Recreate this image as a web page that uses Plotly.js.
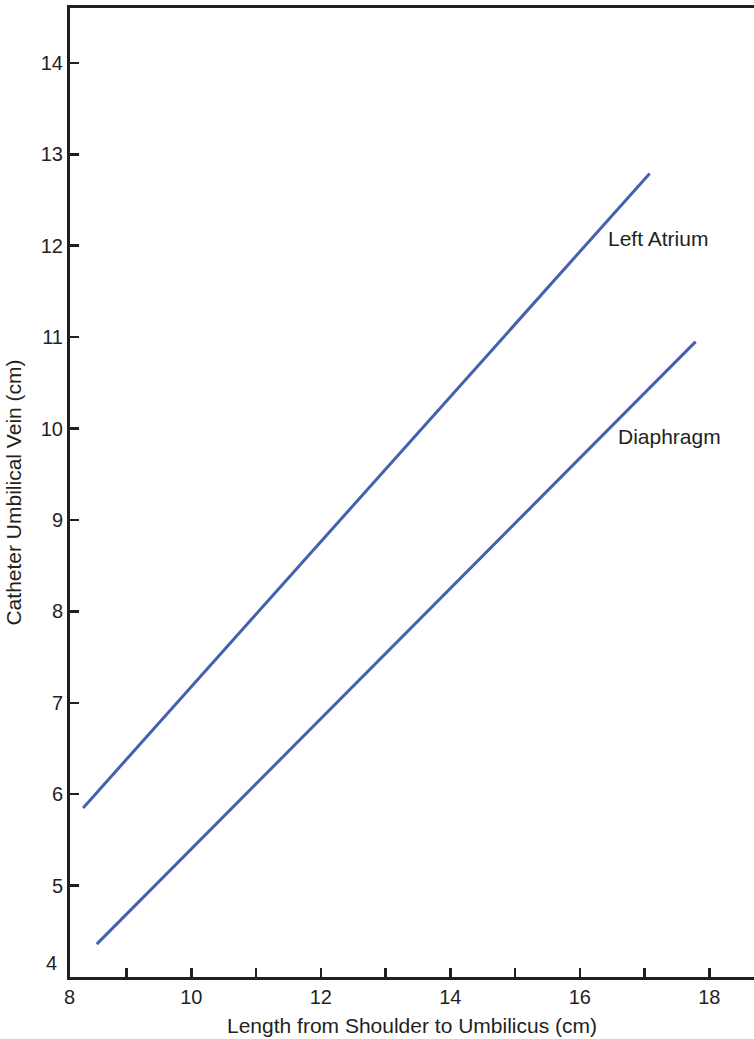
<!DOCTYPE html>
<html>
<head>
<meta charset="utf-8">
<script src="https://cdn.plot.ly/plotly-3.0.1.min.js"></script>
<style>html,body{margin:0;padding:0;background:#fff;}#chart{width:754px;height:1039px;}</style>
</head>
<body>
<div id="chart"></div>
<script>
// Data
const leftAtriumX = [8.33, 17.08];
const leftAtriumY = [5.85, 12.79];
const diaphragmX = [8.54, 17.79];
const diaphragmY = [4.36, 10.95];
const xTickVals = [9, 10, 11, 12, 13, 14, 15, 16, 17, 18];
const xTickText = ["", "10", "", "12", "", "14", "", "16", "", "18"];
const yTickVals = [5, 6, 7, 8, 9, 10, 11, 12, 13, 14];
const yTickText = ["5", "6", "7", "8", "9", "10", "11", "12", "13", "14"];
const seriesNames = ["Left Atrium", "Diaphragm"];

const ink = "#231f20";
const blue = "#4262ae";
const fontFam = "Liberation Sans, Arial, sans-serif";

const traces = [
  {x: leftAtriumX, y: leftAtriumY, mode: "lines", name: seriesNames[0],
   line: {color: blue, width: 3}, hoverinfo: "skip"},
  {x: diaphragmX, y: diaphragmY, mode: "lines", name: seriesNames[1],
   line: {color: blue, width: 3}, hoverinfo: "skip"}
];

const layout = {
  width: 754, height: 1039,
  margin: {l: 70, r: 0, t: 8, b: 62},
  paper_bgcolor: "#fff", plot_bgcolor: "#fff",
  showlegend: false,
  font: {family: fontFam, size: 20, color: ink},
  xaxis: {
    range: [8.127, 18.691],
    tickvals: xTickVals, ticktext: xTickText,
    ticks: "inside", ticklen: 9, tickwidth: 2.5, tickcolor: ink,
    showline: true, linewidth: 3, linecolor: ink, mirror: true,
    showgrid: false, zeroline: false,
    ticklabelstandoff: 0,
    tickfont: {size: 20, color: ink},
    title: {text: "Length from Shoulder to Umbilicus (cm)", font: {size: 21, color: ink}, standoff: 12}
  },
  yaxis: {
    range: [4, 14.6],
    tickvals: yTickVals, ticktext: yTickText,
    ticks: "inside", ticklen: 9, tickwidth: 2.5, tickcolor: ink,
    showline: true, linewidth: 3, linecolor: ink,
    showgrid: false, zeroline: false,
    ticklabelstandoff: 0,
    tickfont: {size: 20, color: ink},
    title: {text: "Catheter Umbilical Vein (cm)", font: {size: 21, color: ink}, standoff: 14}
  },
  annotations: [
    {x: 17.21, y: 12.08, xref: "x", yref: "y", text: seriesNames[0], showarrow: false,
     font: {size: 21, color: ink}, xanchor: "center", yanchor: "middle"},
    {x: 17.39, y: 9.91, xref: "x", yref: "y", text: seriesNames[1], showarrow: false,
     font: {size: 21, color: ink}, xanchor: "center", yanchor: "middle"},
    {x: 0, y: 0, xref: "paper", yref: "paper", text: "8", showarrow: false,
     font: {size: 20, color: ink}, xanchor: "center", yanchor: "middle", xshift: -0.5, yshift: -20},
    {x: 0, y: 0, xref: "paper", yref: "paper", text: "4", showarrow: false,
     font: {size: 20, color: ink}, xanchor: "right", yanchor: "middle", xshift: -11, yshift: 14}
  ]
};

Plotly.newPlot("chart", traces, layout, {staticPlot: true, displayModeBar: false});
</script>
</body>
</html>
